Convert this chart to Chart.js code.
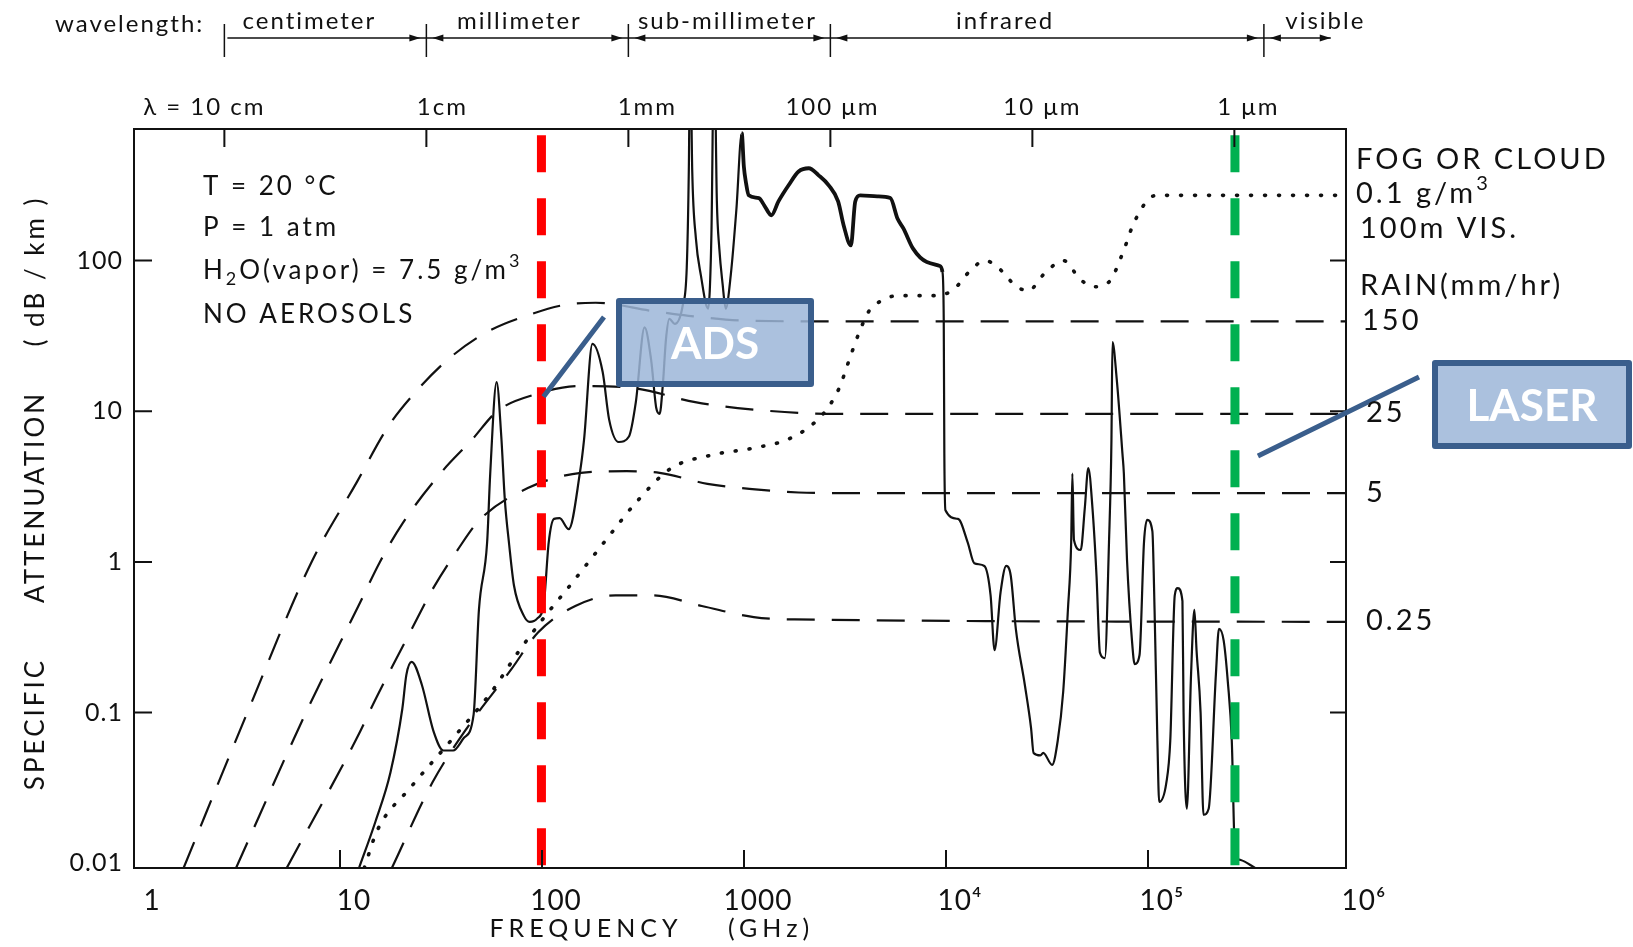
<!DOCTYPE html>
<html>
<head>
<meta charset="utf-8">
<script src="https://cdn.jsdelivr.net/npm/chart.js@4.4.1/dist/chart.umd.min.js"></script>
<style>
  html, body { margin: 0; padding: 0; background: #fff; }
  #wrap { width: 1633px; height: 947px; }
</style>
</head>
<body>
<div id="wrap"><canvas id="c" width="1633" height="947"></canvas></div>
<script>
// ---- Axes ----
const freqTicks = [1, 10, 100, 1000, 1e4, 1e5, 1e6];
const freqTickLabels = ['1', '10', '100', '1000', '10⁴', '10⁵', '10⁶'];
const attenTicks = [0.01, 0.1, 1, 10, 100];
const attenTickLabels = ['0.01', '0.1', '1', '10', '100'];
const attenMin = 0.0093;
const attenMax = 747;

// ---- Wavelength scale along the top (GHz positions) ----
const wavelengthTicks = [3, 30, 300, 3000, 30000, 300000];
const wavelengthLabels = ['λ = 10 cm', '1cm', '1mm', '100 μm', '10 μm', '1 μm'];
const bandEdges = [3, 30, 300, 3000, 420000, 900000];
const bandNames = ['centimeter', 'millimeter', 'sub-millimeter', 'infrared', 'visible'];

// ---- Atmospheric gases, T = 20 °C, P = 1 atm, H2O 7.5 g/m3 (GHz, dB/km) ----
const gasFreq = [13, 15.7, 18.6, 21.3, 22.3, 23.7, 26.6, 30.4, 34, 38, 43, 48, 51, 56, 58, 62.4, 65.8, 68.5, 72, 76,
  85, 91, 99, 107, 113, 120, 128, 142, 161, 169, 186, 209, 225, 251, 282, 305, 337, 363, 385, 400,
  415, 430, 447, 475, 520, 545, 558, 567, 580, 605, 640, 695, 722, 745, 768, 790, 820, 850, 900, 960,
  1020, 1045, 1070, 1105, 1240, 1320, 1430, 1550, 1740, 1950, 2190, 2450, 2750, 3060, 3260, 3540, 3720, 3940, 4780, 5550,
  6020, 6450, 7190, 8410, 9770, 10050, 10200, 10270, 10400, 12000, 13400, 14450, 16200, 17400, 18200, 19500, 20800, 21900, 23200, 25700,
  27600, 28400, 30700, 31700, 35100, 37400, 39800, 42000, 43600, 44200, 45000, 48600, 50900, 53000, 55600, 58200, 60500, 64000, 67100, 69000,
  69800, 73300, 78200, 79500, 82400, 87200, 89900, 95000, 100000, 103700, 110000, 112800, 116500, 118900, 128900, 134900, 142000, 147000, 155000, 157000,
  163000, 171000, 177600, 182000, 190600, 197000, 209000, 227000, 235000, 248000, 260000, 272000, 282000, 301000, 355000];
const gasAtten = [0.0093, 0.019, 0.04, 0.106, 0.178, 0.217, 0.153, 0.075, 0.056, 0.056, 0.068, 0.097, 0.48, 1.35, 3.85, 15.6, 6.8, 2.6, 1.3, 0.7,
  0.44, 0.40, 0.42, 0.54, 1.35, 1.93, 1.95, 1.65, 3.85, 6.45, 28, 18.2, 8.8, 6.25, 6.8, 11.5, 36, 22, 10.5, 9.6,
  15, 30, 41, 38, 50, 90, 400, 3000, 400, 140, 80, 48, 150, 3000, 250, 120, 70, 48, 80, 220,
  700, 420, 330, 271, 260, 232, 200, 247, 316, 390, 410, 368, 316, 247, 171, 126, 247, 271, 267, 260,
  190, 163, 120, 98, 92, 84, 41, 5.25, 2.2, 1.93, 1.35, 0.98, 0.94, 0.6, 0.26, 0.63, 0.94, 0.81, 0.36, 0.153,
  0.079, 0.054, 0.052, 0.054, 0.045, 0.065, 0.137, 0.48, 1.35, 3.85, 1.4, 1.2, 2.26, 4.2, 2.26, 0.81, 0.25, 0.23, 1.35, 6.45,
  28.8, 16.3, 5.25, 3.85, 1.03, 0.3, 0.21, 0.24, 1.35, 1.9, 1.6, 0.48, 0.065, 0.0255, 0.034, 0.065, 0.6, 0.67, 0.55, 0.1,
  0.023, 0.18, 0.48, 0.26, 0.1, 0.021, 0.023, 0.18, 0.36, 0.3, 0.16, 0.065, 0.012, 0.0105, 0.0093];

// ---- Fog or cloud, 0.1 g/m3, 100 m visibility ----
const fogFreq = [13.8, 16, 23.5, 37, 58.8, 79.5, 109, 148, 218, 309, 453, 713, 1170, 1700, 2210, 2690, 3130, 3390, 3900, 4340,
  5000, 6060, 9500, 11500, 13800, 16300, 18600, 23200, 26600, 32800, 40000, 48000, 56000, 67000, 79000, 88000, 103000, 115000, 148000, 1e6];
const fogAtten = [0.0093, 0.0165, 0.032, 0.065, 0.137, 0.25, 0.44, 0.73, 1.41, 2.52, 4.16, 5.1, 5.7, 6.45, 7.9, 10.3, 14.7, 20, 33.6, 46,
  54, 58.5, 58.5, 65, 85.8, 100, 92, 68, 63, 84.5, 100, 75.9, 67, 72, 115, 171, 247, 271, 271, 271];

// ---- Rain (mm/hr) ----
const rain150Freq = [1.76, 3.64, 7.57, 12.7, 18, 25, 36, 56, 92, 137, 193, 363, 556, 1130, 3000, 1e6];
const rain150Atten = [0.0093, 0.1, 1, 3.4, 7.8, 13.6, 22.2, 33.6, 44, 51, 52.5, 46.4, 43, 39.8, 39.5, 39.5];
const rain25Freq = [3.2, 7.1, 13, 16.5, 21.4, 33.6, 47, 62.8, 98, 160, 300, 600, 1130, 3000, 1e6];
const rain25Atten = [0.0093, 0.1, 0.52, 1, 1.81, 4.0, 6.45, 10, 13, 14.7, 14.2, 11.5, 10.3, 9.6, 9.6];
const rain5Freq = [5.7, 12.7, 15.9, 23.5, 30.4, 39.8, 51.4, 89, 163, 275, 400, 690, 1150, 1950, 3300, 1e6];
const rain5Atten = [0.0093, 0.068, 0.127, 0.35, 0.675, 1.19, 1.9, 3.09, 3.9, 4.0, 3.9, 3.3, 3.04, 2.89, 2.86, 2.86];
const rain025Freq = [18.9, 30, 44.5, 74, 100, 153, 242, 368, 647, 1170, 1870, 1e6];
const rain025Atten = [0.0093, 0.0343, 0.079, 0.195, 0.34, 0.51, 0.6, 0.6, 0.51, 0.43, 0.415, 0.40];
const rainRates = ['150', '25', '5', '0.25'];

// ---- Marked frequencies ----
const adsFreq = 104;       // millimetre-wave system
const laserFreq = 282000;  // 1.06 µm laser
const markerTop = 680;

const FONT = 'Lato, "DejaVu Sans", sans-serif';
const INK = '#111';
const BLUE = '#3A5E8C';

const pts = (fs, as) => fs.map((f, i) => ({ x: f, y: as[i] }));

const curve = (data, dash, width, cap, extra) => Object.assign({
  data, showLine: true, pointRadius: 0, borderColor: INK, borderWidth: width,
  borderDash: dash, borderCapStyle: cap || 'butt', cubicInterpolationMode: 'monotone', order: 2
}, extra || {});
const marker = (f, color) => ({
  data: [{ x: f, y: markerTop }, { x: f, y: attenMin }], showLine: true, pointRadius: 0,
  borderColor: color, borderWidth: 9, borderDash: [37, 26], tension: 0, order: 0
});

function rich(ctx, x, y, parts, size, align) {
  ctx.textBaseline = 'middle';
  ctx.textAlign = 'left';
  const widths = parts.map(([t, m]) => {
    ctx.font = `${m ? Math.round(size * 0.68) : size}px ${FONT}`;
    return ctx.measureText(t).width;
  });
  const total = widths.reduce((a, b) => a + b, 0);
  let cx = align === 'center' ? x - total / 2 : x;
  parts.forEach(([t, m], i) => {
    ctx.font = `${m ? Math.round(size * 0.68) : size}px ${FONT}`;
    const dy = m === 1 ? size * 0.32 : m === 2 ? -size * 0.36 : 0;
    ctx.fillText(t, cx, y + dy);
    cx += widths[i];
  });
}

function arrowHead(ctx, x, y, dir) {
  ctx.beginPath();
  ctx.moveTo(x, y);
  ctx.lineTo(x - dir * 11, y - 3.5);
  ctx.lineTo(x - dir * 11, y + 3.5);
  ctx.closePath();
  ctx.fill();
}

function callout(ctx, box, text, size) {
  const [x, y, w, h] = box;
  ctx.save();
  ctx.fillStyle = 'rgba(156,182,216,0.85)';
  ctx.fillRect(x, y, w, h);
  ctx.strokeStyle = BLUE;
  ctx.lineWidth = 6;
  ctx.lineJoin = 'round';
  ctx.strokeRect(x, y, w, h);
  ctx.fillStyle = '#fff';
  ctx.letterSpacing = '0px';
  ctx.font = `bold ${size}px ${FONT}`;
  ctx.textAlign = 'center';
  ctx.textBaseline = 'middle';
  ctx.fillText(text, x + w / 2, y + h / 2 + 2);
  ctx.restore();
}

const decor = {
  id: 'decor',
  beforeDraw(chart) {
    chart.ctx.letterSpacing = '1px';
  },
  afterDatasetsDraw(chart) {
    const { ctx, chartArea: a, scales: { x: xs, y: ys } } = chart;
    const X = v => xs.getPixelForValue(v);
    const Y = v => ys.getPixelForValue(v);
    ctx.save();
    ctx.strokeStyle = INK;
    ctx.lineWidth = 2;
    ctx.strokeRect(a.left, a.top, a.right - a.left, a.bottom - a.top);
    ctx.beginPath();
    freqTicks.slice(1, -1).forEach(v => { ctx.moveTo(X(v) + 4, a.bottom); ctx.lineTo(X(v) + 4, a.bottom - 18); });
    attenTicks.slice(1).forEach(v => {
      ctx.moveTo(a.left, Y(v)); ctx.lineTo(a.left + 18, Y(v));
      ctx.moveTo(a.right, Y(v)); ctx.lineTo(a.right - 16, Y(v));
    });
    wavelengthTicks.forEach(v => { ctx.moveTo(X(v) - 6, a.top); ctx.lineTo(X(v) - 6, a.top + 18); });
    ctx.stroke();

    // connector lines and callout boxes
    ctx.strokeStyle = BLUE;
    ctx.lineWidth = 5;
    ctx.beginPath();
    ctx.moveTo(X(adsFreq) + 2, Y(12.5));
    ctx.lineTo(604, 317);
    ctx.moveTo(X(laserFreq) + 23, 456);
    ctx.lineTo(1419, 377);
    ctx.stroke();
    ctx.restore();
    callout(ctx, [619, 301, 192, 83], 'ADS', 44);
    callout(ctx, [1435, 363, 194, 83], 'LASER', 44);
  },
  afterDraw(chart) {
    const { ctx, scales: { x: xs, y: ys } } = chart;
    const X = v => xs.getPixelForValue(v);
    const Y = v => ys.getPixelForValue(v);
    ctx.save();
    ctx.fillStyle = INK;
    ctx.strokeStyle = INK;
    ctx.letterSpacing = '2px';

    // wavelength bands
    const shift = -6;
    ctx.font = `24px ${FONT}`;
    ctx.textBaseline = 'middle';
    ctx.textAlign = 'left';
    ctx.fillText('wavelength:', 55, 24);
    const edgesPx = bandEdges.map(v => X(v) + shift);
    const nudge = [-16, -8, -2, -42, 28];
    ctx.lineWidth = 1.5;
    ctx.beginPath();
    edgesPx.slice(0, -1).forEach(px => { ctx.moveTo(px, 24); ctx.lineTo(px, 57); });
    ctx.moveTo(edgesPx[0] + 3, 38);
    ctx.lineTo(edgesPx[edgesPx.length - 1], 38);
    ctx.stroke();
    for (let i = 0; i < bandNames.length; i++) {
      const l = edgesPx[i], r = edgesPx[i + 1];
      arrowHead(ctx, i === bandNames.length - 1 ? r : r - 6, 38, 1);
      if (i > 0) arrowHead(ctx, l + 6, 38, -1);
      ctx.textAlign = 'center';
      ctx.fillText(bandNames[i], (l + r) / 2 + nudge[i], 21);
    }

    // wavelength tick labels
    ctx.font = `24px ${FONT}`;
    const lblOff = [-20, 16, 19, 2, 10, 14];
    wavelengthLabels.forEach((t, i) => {
      ctx.textAlign = 'center';
      ctx.fillText(t, X(wavelengthTicks[i]) + shift + lblOff[i], 107);
    });

    // conditions
    const cs = 26;
    ctx.letterSpacing = '3px';
    ctx.font = `${cs}px ${FONT}`;
    ctx.textAlign = 'left';
    ctx.fillText('T = 20 °C', 203, 187);
    ctx.fillText('P = 1 atm', 203, 228);
    rich(ctx, 203, 271, [['H', 0], ['2', 1], ['O(vapor) = 7.5 g/m', 0], ['3', 2]], cs, 'left');
    ctx.font = `${cs}px ${FONT}`;
    ctx.fillText('NO AEROSOLS', 203, 315);

    // right-hand legend
    const rs = 29;
    ctx.letterSpacing = '3px';
    ctx.font = `${rs}px ${FONT}`;
    ctx.textAlign = 'left';
    ctx.fillText('FOG OR CLOUD', 1356, 160);
    rich(ctx, 1356, 194, [['0.1 g/m', 0], ['3', 2]], rs, 'left');
    ctx.font = `${rs}px ${FONT}`;
    ctx.fillText('100m VIS.', 1360, 229);
    ctx.fillText('RAIN(mm/hr)', 1360, 286);
    const rainEnds = [rain150Atten, rain25Atten, rain5Atten, rain025Atten].map(s => s[s.length - 1]);
    rainRates.forEach((t, i) => {
      ctx.fillText(t, 1362 + (i > 0 ? 4 : 0), Y(rainEnds[i]) - 1);
    });

    // axis titles
    ctx.letterSpacing = '5px';
    ctx.font = `25px ${FONT}`;
    ctx.textAlign = 'center';
    ctx.fillText('FREQUENCY', 586, 929);
    ctx.fillText('(GHz)', 771, 929);
    ctx.translate(36, 0);
    ctx.rotate(-Math.PI / 2);
    ctx.letterSpacing = '3px';
    ctx.font = `26px ${FONT}`;
    ctx.fillText('SPECIFIC', -724, 0);
    ctx.fillText('ATTENUATION', -497, 0);
    ctx.fillText('( dB / km )', -271, 0);
    ctx.restore();
  }
};

// the water-vapour band above 1 THz is drawn heavier, as a dense forest of lines
const bandSegment = {
  segment: {
    borderWidth: c => (c.p0.parsed.x >= 1000 && c.p1.parsed.x <= 10050 && c.p0.parsed.y > 60 && c.p1.parsed.y > 60) ? 3.8 : undefined
  }
};

new Chart(document.getElementById('c'), {
  type: 'scatter',
  data: {
    datasets: [
      marker(adsFreq, '#FF0000'),
      marker(laserFreq, '#00B050'),
      curve(pts(gasFreq, gasAtten), [], 2.2, 'butt', bandSegment),
      curve(pts(fogFreq, fogAtten), [1, 13], 3.6, 'round'),
      curve(pts(rain150Freq, rain150Atten), [28, 17], 2.2),
      curve(pts(rain25Freq, rain25Atten), [28, 17], 2.2),
      curve(pts(rain5Freq, rain5Atten), [28, 17], 2.2),
      curve(pts(rain025Freq, rain025Atten), [28, 17], 2.2)
    ]
  },
  options: {
    responsive: false,
    animation: false,
    devicePixelRatio: 1,
    layout: { padding: { left: 0, top: 129, right: 287, bottom: 0 } },
    plugins: { legend: { display: false }, tooltip: { enabled: false } },
    scales: {
      x: {
        type: 'logarithmic', min: 1, max: 1e6, bounds: 'data',
        afterBuildTicks: s => { s.ticks = freqTicks.map(v => ({ value: v })); },
        afterFit: s => { s.height = 79; },
        grid: { display: false }, border: { display: false },
        ticks: {
          callback: (v, i) => freqTickLabels[i], autoSkip: false, maxRotation: 0,
          font: { family: FONT, size: 28 }, color: INK, padding: 8, labelOffset: 18
        }
      },
      y: {
        type: 'logarithmic', min: attenMin, max: attenMax, bounds: 'data',
        afterBuildTicks: s => { s.ticks = attenTicks.map(v => ({ value: v })); },
        afterFit: s => { s.width = 134; },
        grid: { display: false }, border: { display: false },
        ticks: {
          callback: (v, i) => attenTickLabels[i],
          font: { family: FONT, size: 25 }, color: INK, padding: 3
        }
      }
    }
  },
  plugins: [decor]
});
</script>
</body>
</html>
